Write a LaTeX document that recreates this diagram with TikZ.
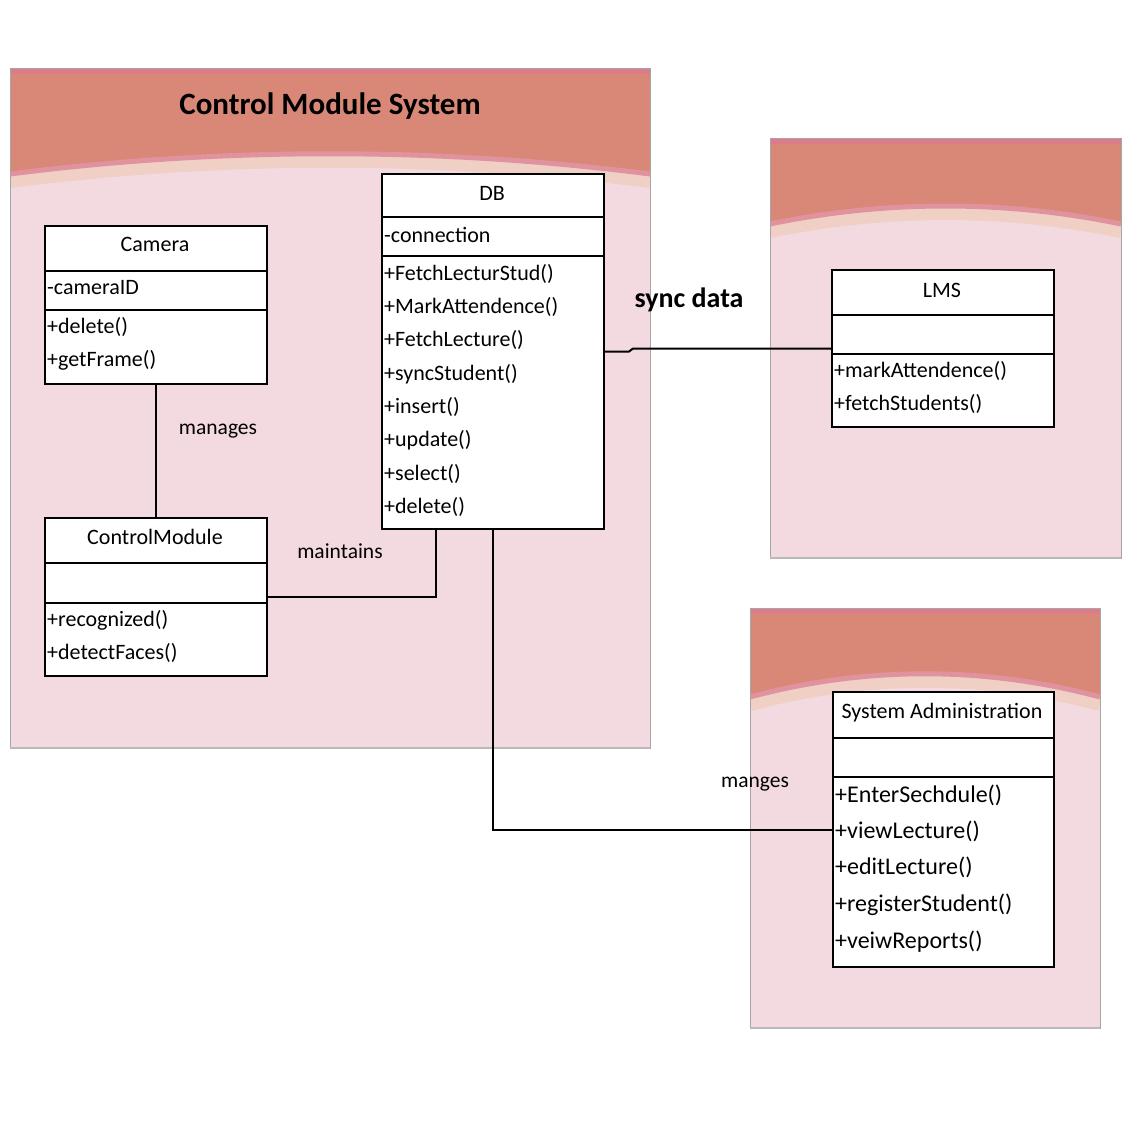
\documentclass[tikz,border=0pt]{standalone}
\usepackage{fontspec}
\setmainfont{Carlito}
\usetikzlibrary{calc}

\definecolor{bodypink}{HTML}{F2DAE0}
\definecolor{salmon}{HTML}{D98878}
\definecolor{rosestrip}{HTML}{DC7C8A}
\definecolor{creamband}{HTML}{F0D0C4}
\definecolor{roseband}{HTML}{E0939E}

\tikzset{
  classbox/.style={draw=black, line width=2pt, fill=white, inner sep=0pt, anchor=north west},
  compsep/.style={black, line width=2pt},
  cname/.style={font=\fontsize{22}{26}\selectfont, inner sep=0pt, text height=15pt, text depth=5pt},
  member/.style={font=\fontsize{22}{26}\selectfont, inner sep=0pt, anchor=west, text height=16pt, text depth=5pt},
  bigmember/.style={font=\fontsize{24}{28}\selectfont, inner sep=0pt, anchor=west, text height=17pt, text depth=6pt},
  link/.style={black, line width=2pt},
  lbl/.style={font=\fontsize{21.5}{25}\selectfont, inner sep=0pt},
  boldlbl/.style={font=\bfseries\fontsize{28}{32}\selectfont, inner sep=0pt},
  frameline/.style={draw=gray!70, line width=1pt},
}

% package container: pink body, salmon header with an arched lower edge
% #1,#2 = left/top, #3,#4 = right/bottom, #5 = header edge y at the sides, #6 = control y of the arch
\newcommand{\pkgbox}[6]{%
  \begin{scope}
    \clip (#1,#2) rectangle (#3,#4);
    \fill[bodypink] (#1,#2) rectangle (#3,#4);
    \draw[creamband, line width=14pt] (#1,#5+6) .. controls ($(#1,#6)!0.33!(#3,#6)+(0,6)$) and ($(#1,#6)!0.67!(#3,#6)+(0,6)$) .. (#3,#5+6);
    \fill[salmon] (#1,#2) -- (#3,#2) -- (#3,#5) .. controls ($(#1,#6)!0.67!(#3,#6)$) and ($(#1,#6)!0.33!(#3,#6)$) .. (#1,#5) -- cycle;
    \draw[roseband, line width=5pt] (#1,#5-1) .. controls ($(#1,#6)!0.33!(#3,#6)+(0,-1)$) and ($(#1,#6)!0.67!(#3,#6)+(0,-1)$) .. (#3,#5-1);
    \fill[rosestrip] (#1,#2) rectangle (#3,#2+6);
  \end{scope}
  \draw[frameline] (#1,#2) rectangle (#3,#4);
  \draw[gray!55, line width=2.5pt] (#1,#4) -- (#3,#4);
}

\begin{document}
\begin{tikzpicture}[x=1pt, y=-1pt]
\fill[white] (0,0) rectangle (1131,1133);
\useasboundingbox (0,0) rectangle (1131,1133);

% ---------- packages ----------
\pkgbox{10}{68}{650}{748}{175}{148}
\pkgbox{770}{138}{1121}{558}{225}{201}
\pkgbox{750}{608}{1100}{1028}{698}{667}

\node[font=\bfseries\fontsize{31}{36}\selectfont, inner sep=0pt] (title) at (330,106) {Control Module System};

% ---------- Camera ----------
\node[classbox, minimum width=222pt, minimum height=158pt] (cam) at (44,225) {};
\draw[compsep] ($(cam.north west)+(0,46)$) -- ($(cam.north east)+(0,46)$);
\draw[compsep] ($(cam.north west)+(0,85)$) -- ($(cam.north east)+(0,85)$);
\node[cname] (camname) at (155,246) {Camera};
\node[member] (camattr) at (47,289) {-cameraID};
\node[member] (camop1) at (47,328) {+delete()};
\node[member] (camop2) at (47,361) {+getFrame()};

% ---------- ControlModule ----------
\node[classbox, minimum width=222pt, minimum height=158pt] (ctrl) at (44,517) {};
\draw[compsep] ($(ctrl.north west)+(0,46)$) -- ($(ctrl.north east)+(0,46)$);
\draw[compsep] ($(ctrl.north west)+(0,86)$) -- ($(ctrl.north east)+(0,86)$);
\node[cname] (ctrlname) at (155,539) {ControlModule};
\node[member] (ctrlop1) at (47,621) {+recognized()};
\node[member] (ctrlop2) at (47,654) {+detectFaces()};

% ---------- DB ----------
\node[classbox, minimum width=222pt, minimum height=355pt] (db) at (381,173) {};
\draw[compsep] ($(db.north west)+(0,44)$) -- ($(db.north east)+(0,44)$);
\draw[compsep] ($(db.north west)+(0,83)$) -- ($(db.north east)+(0,83)$);
\node[cname] (dbname) at (492,195) {DB};
\node[member] (dbattr) at (384,237) {-connection};
\node[member] (dbop1) at (384,275) {+FetchLecturStud()};
\node[member] (dbop2) at (384,308) {+MarkAttendence()};
\node[member] (dbop3) at (384,341) {+FetchLecture()};
\node[member] (dbop4) at (384,375) {+syncStudent()};
\node[member] (dbop5) at (384,408) {+insert()};
\node[member] (dbop6) at (384,441) {+update()};
\node[member] (dbop7) at (384,475) {+select()};
\node[member] (dbop8) at (384,508) {+delete()};

% ---------- LMS ----------
\node[classbox, minimum width=222pt, minimum height=157pt] (lms) at (831,269) {};
\draw[compsep] ($(lms.north west)+(0,46)$) -- ($(lms.north east)+(0,46)$);
\draw[compsep] ($(lms.north west)+(0,85)$) -- ($(lms.north east)+(0,85)$);
\node[cname] (lmsname) at (942,292) {LMS};
\node[member] (lmsop1) at (834,372) {+markAttendence()};
\node[member] (lmsop2) at (834,405) {+fetchStudents()};

% ---------- System Administration ----------
\node[classbox, minimum width=221pt, minimum height=275pt] (sa) at (832,691) {};
\draw[compsep] ($(sa.north west)+(0,47)$) -- ($(sa.north east)+(0,47)$);
\draw[compsep] ($(sa.north west)+(0,86)$) -- ($(sa.north east)+(0,86)$);
\node[cname] (saname) at (942,713) {System Administration};
\node[bigmember] (saop1) at (835,797) {+EnterSechdule()};
\node[bigmember] (saop2) at (835,833) {+viewLecture()};
\node[bigmember] (saop3) at (835,869) {+editLecture()};
\node[bigmember] (saop4) at (835,906) {+registerStudent()};
\node[bigmember] (saop5) at (835,943) {+veiwReports()};

% ---------- associations ----------
\draw[link] (cam.south) -- (ctrl.north);
\node[lbl] (lblmanages) at (218,431) {manages};

\coordinate (dbfoot) at (436,528);
\draw[link] (ctrl.east) -| (dbfoot);
\node[lbl] (lblmaintains) at (340,551) {maintains};

\draw[link] (db.east) -- ($(db.east)+(24,0)$) -- ($(lms.west -| db.east)+(28,0)$) -- (lms.west);
\node[boldlbl] (lblsync) at (689,300) {sync data};

\draw[link] (db.south) |- (sa.west);
\node[lbl] (lblmanges) at (755,784) {manges};

\end{tikzpicture}
\end{document}
